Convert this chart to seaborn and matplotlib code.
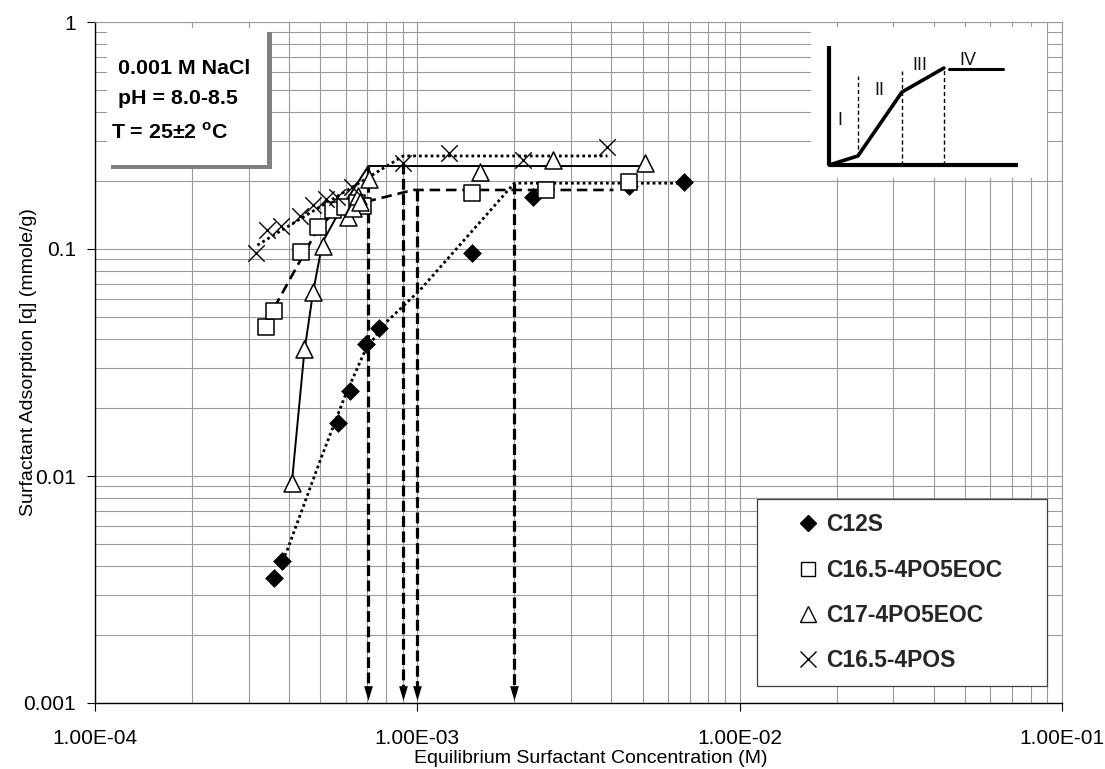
import numpy as np
import pandas as pd
import matplotlib
matplotlib.use("Agg")
import matplotlib.pyplot as plt
import seaborn as sns
from matplotlib.path import Path
from matplotlib.patches import Rectangle
from matplotlib.lines import Line2D
from matplotlib.ticker import LogLocator, FuncFormatter, NullFormatter

# ---------------- data ----------------
c12s_x = [3.60e-4, 3.81e-4, 5.68e-4, 6.19e-4, 6.95e-4, 7.62e-4, 1.48e-3, 2.28e-3, 4.52e-3, 6.70e-3]
c12s_y = [0.00355, 0.00422, 0.0171, 0.0237, 0.0382, 0.0449, 0.096, 0.169, 0.190, 0.197]

c165eoc_x = [3.40e-4, 3.60e-4, 4.36e-4, 4.93e-4, 5.48e-4, 5.97e-4, 6.50e-4, 6.80e-4, 1.48e-3, 2.50e-3, 4.55e-3]
c165eoc_y = [0.0453, 0.0533, 0.097, 0.125, 0.149, 0.153, 0.160, 0.155, 0.177, 0.182, 0.197]

c17_x = [4.08e-4, 4.46e-4, 4.75e-4, 5.08e-4, 6.11e-4, 6.33e-4, 6.55e-4, 6.66e-4, 7.10e-4, 1.56e-3, 2.63e-3, 5.07e-3]
c17_y = [0.0093, 0.0362, 0.0647, 0.103, 0.138, 0.152, 0.172, 0.161, 0.203, 0.218, 0.247, 0.239]

c165pos_x = [3.16e-4, 3.42e-4, 3.78e-4, 4.33e-4, 4.75e-4, 5.21e-4, 5.64e-4, 6.27e-4, 9.05e-4, 1.256e-3, 2.12e-3, 3.89e-3]
c165pos_y = [0.096, 0.121, 0.126, 0.140, 0.156, 0.166, 0.169, 0.187, 0.239, 0.265, 0.247, 0.281]

# model (trend) lines
c12s_fit_x = [3.81e-4, 3.95e-4, 5.00e-4, 5.98e-4, 6.90e-4, 7.96e-4, 1.02e-3, 2.00e-3, 6.70e-3]
c12s_fit_y = [0.00422, 0.00472, 0.01175, 0.0227, 0.0359, 0.0472, 0.0660, 0.195, 0.195]
c165eoc_fit_x = [3.40e-4, 4.93e-4, 5.77e-4, 7.05e-4, 9.72e-4, 4.06e-3]
c165eoc_fit_y = [0.0477, 0.124, 0.153, 0.1625, 0.182, 0.182]
c17_fit_x = [4.08e-4, 4.46e-4, 4.75e-4, 5.08e-4, 5.77e-4, 7.05e-4, 5.04e-3]
c17_fit_y = [0.0093, 0.0352, 0.0647, 0.107, 0.149, 0.232, 0.232]
c165pos_fit_x = [3.19e-4, 9.05e-4, 3.89e-3]
c165pos_fit_y = [0.104, 0.257, 0.257]

# CMC arrows
cmc_x = [7.05e-4, 9.05e-4, 1.0e-3, 2.0e-3]
cmc_top = [0.232, 0.24, 0.182, 0.195]
cmc_bottom = 1.08e-3

series_names = ["C12S", "C16.5-4PO5EOC", "C17-4PO5EOC", "C16.5-4POS"]
xticks = [1e-4, 1e-3, 1e-2, 1e-1]
yticks = [0.001, 0.01, 0.1, 1]
conditions = ["0.001 M NaCl", "pH = 8.0-8.5", r"T = 25±2 $^{\mathbf{o}}$C"]

# schematic inset (relative units)
sch_curve_x = [0.0, 0.153, 0.386, 0.608]
sch_curve_y = [0.0, 0.076, 0.613, 0.815]
sch_plateau_x = [0.635, 0.921]
sch_plateau_y = [0.807, 0.807]
sch_div_x = [0.153, 0.386, 0.608]
sch_div_y0 = [0.076, 0.0, 0.0]
sch_div_y1 = [0.748, 0.79, 0.815]
sch_labels = ["I", "II", "III", "IV"]
sch_label_x = [0.058, 0.265, 0.481, 0.735]
sch_label_y = [0.378, 0.622, 0.840, 0.882]

# ---------------- style ----------------
sns.set_theme(style="white")
plt.rcParams["font.family"] = ["Liberation Sans", "DejaVu Sans"]
plt.rcParams["mathtext.fontset"] = "custom"
plt.rcParams["mathtext.rm"] = "Liberation Sans"
plt.rcParams["mathtext.bf"] = "Liberation Sans:bold"

W, H = 1105, 769
fig = plt.figure(figsize=(W / 100, H / 100), dpi=100)
fig.patch.set_facecolor("white")
L, R, T, B = 95, 1062, 22, 703
ax = fig.add_axes([L / W, (H - B) / H, (R - L) / W, (B - T) / H])
ax.set_facecolor("white")
ax.set_xscale("log")
ax.set_yscale("log")
ax.set_xlim(1e-4, 1e-1)
ax.set_ylim(1e-3, 1)

gridc = "#9a9a9a"
ax.xaxis.set_minor_locator(LogLocator(base=10, subs=np.arange(2, 10)))
ax.yaxis.set_minor_locator(LogLocator(base=10, subs=np.arange(2, 10)))
ax.xaxis.set_minor_formatter(NullFormatter())
ax.yaxis.set_minor_formatter(NullFormatter())
ax.set_xticks(xticks)
ax.set_yticks(yticks)
ax.xaxis.set_major_formatter(FuncFormatter(lambda v, p: f"{v:.2E}"))
ax.yaxis.set_major_formatter(FuncFormatter(lambda v, p: f"{v:g}"))
ax.grid(True, which="both", color=gridc, lw=0.8)
ax.set_axisbelow(True)
ax.tick_params(axis="both", which="major", direction="out", length=5.5, width=0.8,
               color="black", labelsize=15, labelcolor="black", bottom=True, left=True)
ax.tick_params(axis="x", which="major", pad=13)
ax.tick_params(axis="y", which="major", pad=8)
ax.tick_params(axis="both", which="minor", length=0)
for s in ["left", "bottom"]:
    ax.spines[s].set_color("black")
    ax.spines[s].set_linewidth(1.0)
for s in ["top", "right"]:
    ax.spines[s].set_color(gridc)
    ax.spines[s].set_linewidth(0.8)

# ---------------- lines ----------------
sns.lineplot(x=c12s_fit_x, y=c12s_fit_y, sort=False, estimator=None, color="black",
             lw=2.0, linestyle=(0, (1, 1.1)), ax=ax, zorder=3)
sns.lineplot(x=c165eoc_fit_x, y=c165eoc_fit_y, sort=False, estimator=None, color="black",
             lw=1.9, linestyle=(0, (4, 2.2)), ax=ax, zorder=3)
sns.lineplot(x=c17_fit_x, y=c17_fit_y, sort=False, estimator=None, color="black",
             lw=1.4, linestyle="-", ax=ax, zorder=3)
sns.lineplot(x=c165pos_fit_x, y=c165pos_fit_y, sort=False, estimator=None, color="black",
             lw=2.0, linestyle=(0, (1, 1.1)), ax=ax, zorder=3)

# CMC arrows
for xv, yt in zip(cmc_x, cmc_top):
    ax.plot([xv, xv], [yt, cmc_bottom * 1.06], color="black", lw=2.3,
            linestyle=(0, (3.4, 1.4)), zorder=3)
head = Path([(-0.3, 0.5), (0.3, 0.5), (0.0, -0.5), (-0.3, 0.5)],
            [Path.MOVETO, Path.LINETO, Path.LINETO, Path.CLOSEPOLY])
ax.scatter(cmc_x, [cmc_bottom * 1.025] * len(cmc_x), marker=head, s=110,
           color="black", zorder=4, linewidths=0)

# ---------------- markers ----------------
sns.scatterplot(x=c12s_x, y=c12s_y, marker="D", s=82, color="black", edgecolor="black",
                linewidth=0.5, ax=ax, zorder=5, legend=False)
sns.scatterplot(x=c165eoc_x, y=c165eoc_y, marker="s", s=120, facecolor="white",
                edgecolor="black", linewidth=1.1, ax=ax, zorder=5, legend=False)
sns.scatterplot(x=c17_x, y=c17_y, marker="^", s=150, facecolor="white",
                edgecolor="black", linewidth=1.1, ax=ax, zorder=5, legend=False)
sns.scatterplot(x=c165pos_x, y=c165pos_y, marker="x", s=140, color="black",
                linewidth=1.0, ax=ax, zorder=5, legend=False)

# ---------------- labels ----------------
ax.set_xlabel("Equilibrium Surfactant Concentration (M)", fontsize=14, color="black")
ax.set_ylabel("Surfactant Adsorption [q] (mmole/g)", fontsize=14, color="black")
ax.xaxis.set_label_coords(0.5125, -0.069)
ax.yaxis.set_label_coords(-0.060, 0.50)

# ---------------- legend ----------------
handles = [
    Line2D([], [], ls="none", marker="D", ms=8.6, mfc="black", mec="black"),
    Line2D([], [], ls="none", marker="s", ms=10.5, mfc="white", mec="black", mew=1.0),
    Line2D([], [], ls="none", marker="^", ms=11.5, mfc="white", mec="black", mew=1.0),
    Line2D([], [], ls="none", marker="x", ms=11, mec="black", mew=1.0),
]
leg = fig.legend(handles, series_names, loc="upper left",
                 bbox_to_anchor=(757 / W, (H - 683) / H, 290 / W, 184 / H),
                 mode="expand", borderaxespad=0, frameon=True, fancybox=False,
                 prop={"weight": "bold", "size": 16.5}, labelspacing=0.975,
                 handlelength=3.25, handletextpad=-0.87, borderpad=0.62)
leg.get_frame().set_edgecolor("#404040")
leg.get_frame().set_linewidth(0.9)
leg.get_frame().set_facecolor("white")
leg.get_frame().set_alpha(1)

# ---------------- conditions box ----------------
def afx(px):
    return (px - L) / (R - L)

def afy(py):
    return (B - py) / (B - T)

ax.add_patch(Rectangle((afx(111), afy(169)), afx(272) - afx(111), afy(32) - afy(169),
                       transform=ax.transAxes, facecolor="#808080", edgecolor="none",
                       zorder=6, clip_on=False))
ax.add_patch(Rectangle((afx(107), afy(165)), afx(267) - afx(107), afy(28) - afy(165),
                       transform=ax.transAxes, facecolor="white", edgecolor="none",
                       zorder=7, clip_on=False))
for txt, px, py in zip(conditions, [118, 118, 111], [68, 98, 132]):
    ax.text(afx(px), afy(py), txt, transform=ax.transAxes, fontsize=15.4,
            fontweight="bold", ha="left", va="center", color="black", zorder=8)

# ---------------- schematic inset ----------------
ix0, ix1, iy0, iy1 = 811, 1047, 27, 178
ins = fig.add_axes([ix0 / W, (H - iy1) / H, (ix1 - ix0) / W, (iy1 - iy0) / H])
ins.set_facecolor("white")
for s in ins.spines.values():
    s.set_visible(False)
ins.set_xticks([])
ins.set_yticks([])
ox, oy, sw, sh = 829, 165, 189, 119
ins.set_xlim((ix0 - ox) / sw, (ix1 - ox) / sw)
ins.set_ylim((oy - iy1) / sh, (oy - iy0) / sh)
ins.plot([0, 0], [0, 1], color="black", lw=3.0, solid_capstyle="butt")
ins.plot([0, 1], [0, 0], color="black", lw=3.0, solid_capstyle="butt")
sns.lineplot(x=sch_curve_x, y=sch_curve_y, sort=False, estimator=None, color="black",
             lw=2.6, ax=ins)
sns.lineplot(x=sch_plateau_x, y=sch_plateau_y, sort=False, estimator=None, color="black",
             lw=2.2, ax=ins)
for xv, y0, y1 in zip(sch_div_x, sch_div_y0, sch_div_y1):
    ins.plot([xv, xv], [y0, y1], color="black", lw=1.0, linestyle=(0, (3, 2)))
for t, xv, yv in zip(sch_labels, sch_label_x, sch_label_y):
    ins.text(xv, yv, t, fontsize=13, ha="center", va="center", color="#111111")

fig.savefig("out.png", dpi=100, facecolor="white")
